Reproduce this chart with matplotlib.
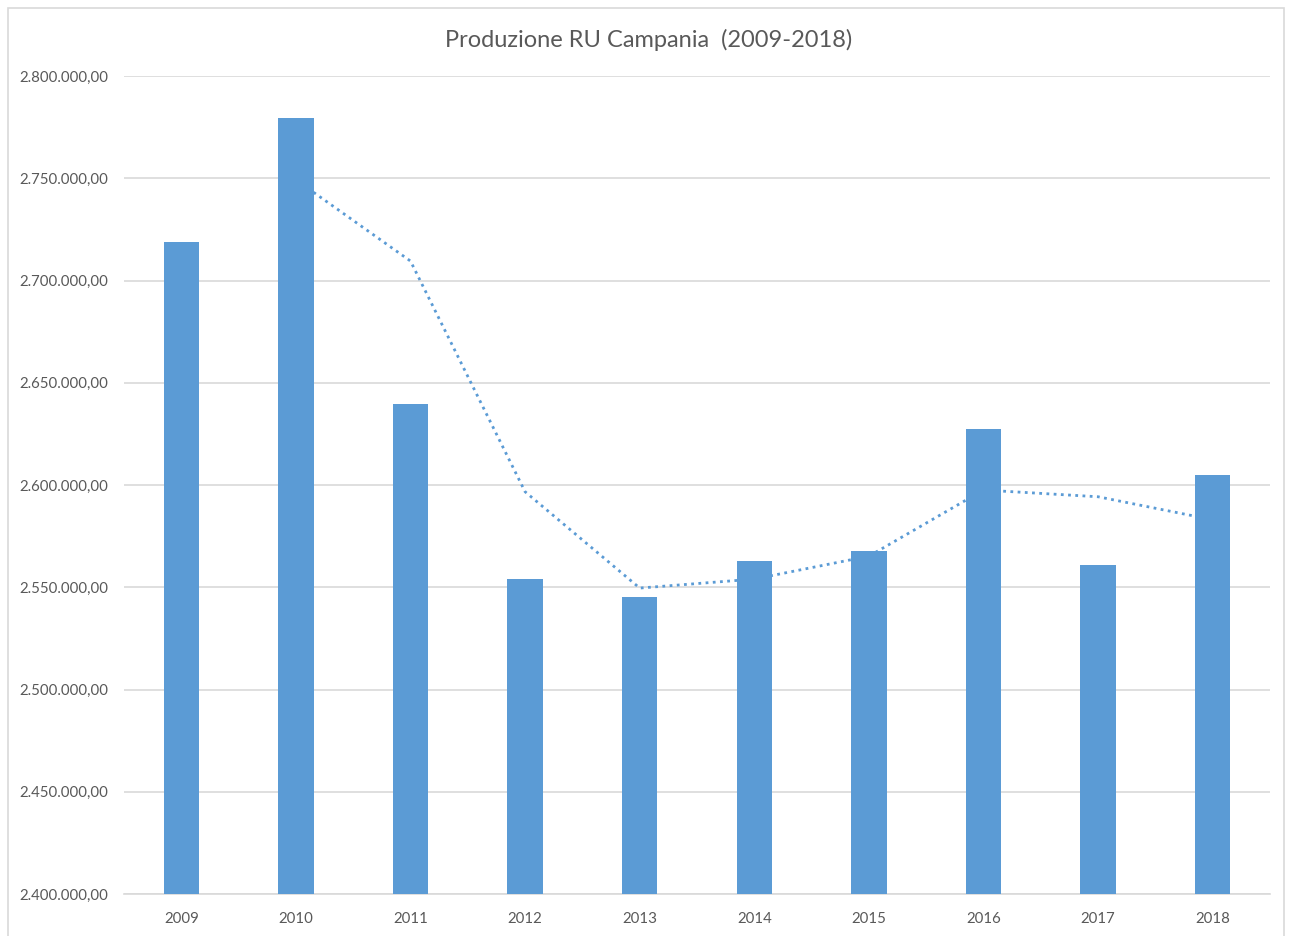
import matplotlib.pyplot as plt
from matplotlib.patches import Rectangle
from matplotlib.ticker import FuncFormatter

years = ['2009', '2010', '2011', '2012', '2013', '2014', '2015', '2016', '2017', '2018']
production = [2718900, 2779600, 2639400, 2554000, 2545200,
              2562800, 2567600, 2627500, 2561000, 2605000]

# 2-period moving average trendline (as in the Excel chart)
moving_avg = [(production[i - 1] + production[i]) / 2 for i in range(1, len(production))]

bar_color = '#5B9BD5'
text_color = '#595959'
grid_color = '#D9D9D9'

plt.rcParams['font.family'] = ['Lato', 'DejaVu Sans']

fig = plt.figure(figsize=(12.89, 9.36), dpi=100)
ax = fig.add_axes([124 / 1289, 1 - 894 / 936, 1146 / 1289, 818 / 936])

x = list(range(len(years)))
ax.bar(x, production, width=0.31, color=bar_color, zorder=3, bottom=0)
ax.plot(x[1:], moving_avg, linestyle=(0, (1, 1.6)), color=bar_color, linewidth=2, zorder=2)

ax.set_xlim(-0.5, len(years) - 0.5)
ax.set_ylim(2400000, 2800000)
ax.set_yticks(range(2400000, 2800001, 50000))
ax.yaxis.set_major_formatter(FuncFormatter(
    lambda v, _: f'{v:,.2f}'.replace(',', 'X').replace('.', ',').replace('X', '.')))
ax.set_xticks(x)
ax.set_xticklabels(years)

ax.grid(axis='y', color=grid_color, linewidth=1.2, zorder=0)
for side in ['left', 'right', 'top']:
    ax.spines[side].set_visible(False)
ax.spines['bottom'].set_color(grid_color)
ax.spines['bottom'].set_linewidth(1.2)
ax.tick_params(axis='both', length=0, colors=text_color, labelsize=10.8)
ax.tick_params(axis='y', pad=11.5)
ax.tick_params(axis='x', pad=13)

fig.text(649 / 1289, 1 - 40 / 936, 'Produzione RU Campania  (2009-2018)',
         ha='center', va='center', fontsize=17, color=text_color)

# outer chart frame
fig.patches.append(Rectangle((8 / 1289, -0.05), (1284 - 8) / 1289, 1.05 - 8 / 936,
                             transform=fig.transFigure, fill=False,
                             edgecolor='#D9D9D9', linewidth=1.2))

fig.savefig('out.png', dpi=100)
